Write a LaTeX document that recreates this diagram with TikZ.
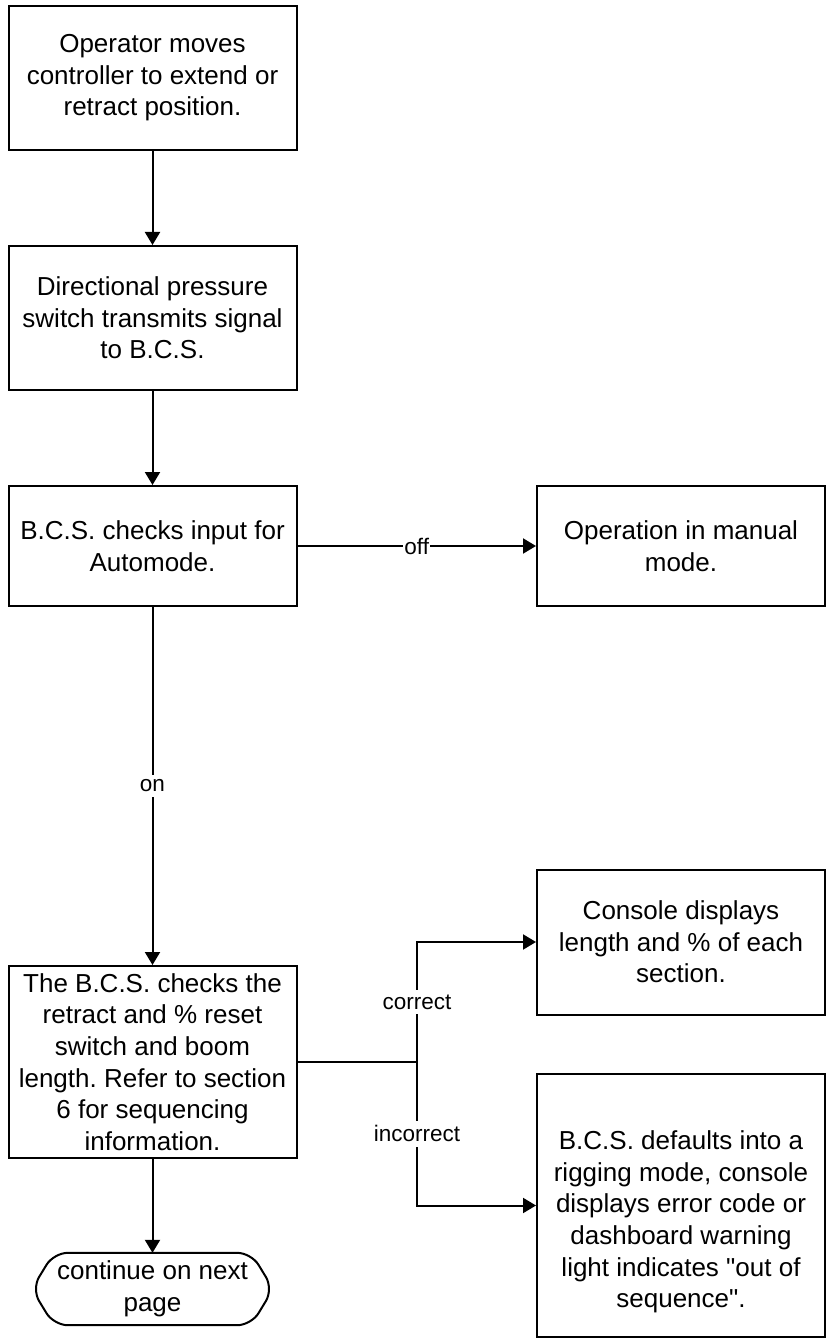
\documentclass[tikz,border=0pt]{standalone}
\usepackage{fontspec}
\setmainfont{Liberation Sans}[Ligatures=TeXOff]
\usetikzlibrary{arrows.meta}
\frenchspacing
\begin{document}
\begin{tikzpicture}[x=1pt,y=-1pt,
  box/.style={draw, line width=2pt, minimum width=288pt, align=center,
    inner sep=0pt, font=\fontsize{26}{31.6}\selectfont},
  plain/.style={align=center, inner sep=0pt, font=\fontsize{26}{31.6}\selectfont},
  lbl/.style={fill=white, inner xsep=1pt, inner ysep=5pt,
    font=\fontsize{22.5}{26}\selectfont},
  conn/.style={line width=2pt},
  arr/.style={conn, -{Triangle[length=13pt,width=15pt]}},
]
\useasboundingbox (0,0) rectangle (828,1340);

% process boxes
\node[box, minimum height=144pt] (b1) at (152.5,78)
  {Operator moves\\controller to extend or\\retract position.};
\node[box, minimum height=144pt] (b2) at (152.5,318)
  {Directional pressure\\switch transmits signal\\to B.C.S.};
\node[box, minimum height=120pt] (b3) at (152.5,546)
  {B.C.S. checks input for\\Automode.};
\node[box, minimum height=120pt] (man) at (681,546)
  {Operation in manual\\mode.};
\node[box, minimum height=192pt] (b5) at (152.5,1062)
  {The B.C.S. checks the\\retract and \% reset\\switch and boom\\length. Refer to section\\6 for sequencing\\information.};
\node[box, minimum height=145pt] (con) at (681,942)
  {Console displays\\length and \% of each\\section.};
\node[box, minimum height=263pt] (def) at (681,1205.5) {};
\node[plain] (deftext) at (681,1222)
  {B.C.S. defaults into a\\rigging mode, console\\displays error code or\\dashboard warning\\light indicates "out of\\sequence".};

% terminator
\node[plain, minimum width=241pt, minimum height=72pt] (term) at (152.5,1289)
  {continue on next\\page};
\draw[conn, rounded corners=14pt]
  ([xshift=22pt]term.north west) -- ([xshift=-22pt]term.north east)
  -- (term.east) -- ([xshift=-22pt]term.south east)
  -- ([xshift=22pt]term.south west) -- (term.west) -- cycle;

% connectors
\draw[arr] (b1) -- (b2);
\draw[arr] (b2) -- (b3);
\draw[arr] (b3) -- node[lbl] {off} (man);
\draw[arr] (b3) -- node[lbl] {on} (b5);
\draw[arr] (b5) -- (term.north);
\coordinate (split) at (417,1062);
\draw[conn] (b5.east) -- (split);
\draw[arr] (split) |- node[lbl, pos=.25] {correct} (con.west);
\draw[arr] (split) |- node[lbl, pos=.25] {incorrect} (def.west);
\end{tikzpicture}
\end{document}
